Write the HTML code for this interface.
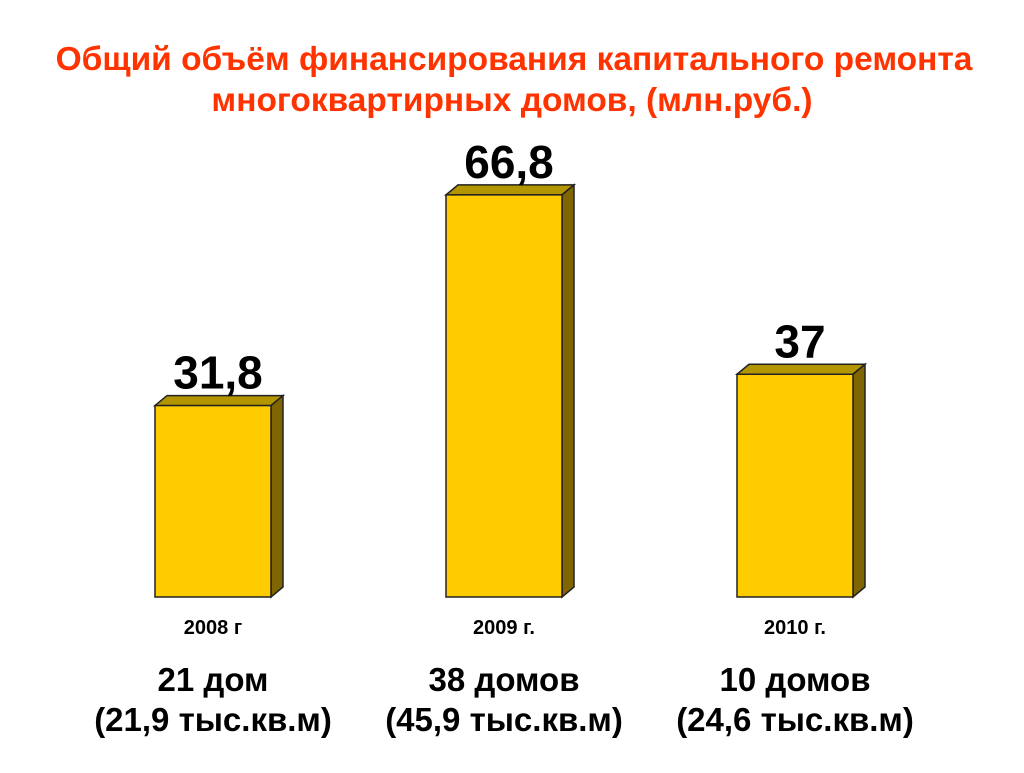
<!DOCTYPE html>
<html><head><meta charset="utf-8"><style>
body{margin:0;width:1024px;height:768px;background:#fff;overflow:hidden;font-family:"Liberation Sans",sans-serif}
</style></head><body>
<svg width="1024" height="768" style="font-family:'Liberation Sans',sans-serif">
<text x="514" y="70" text-anchor="middle" font-size="33.5" font-weight="bold" fill="#ff3300">Общий объём финансирования капитального ремонта</text>
<text x="512" y="111" text-anchor="middle" font-size="33.5" font-weight="bold" fill="#ff3300">многоквартирных домов, (млн.руб.)</text>
<g id="bars"></g>
</svg>
<script>
const categories = ["2008 г", "2009 г.", "2010 г."];
const values = [31.8, 66.8, 37];
const valueLabels = ["31,8", "66,8", "37"];
const houses = ["21 дом", "38 домов", "10 домов"];
const areas = ["(21,9 тыс.кв.м)", "(45,9 тыс.кв.м)", "(24,6 тыс.кв.м)"];
const NS = "http://www.w3.org/2000/svg";
const g = document.getElementById("bars");
const base = 597, scale = 6.02, bw = 116, dx = 12, dy = 10;
function xPos(i){ return 155 + i * 291; }
function yPos(v){ return base - v * scale; }
function mk(tag, attrs, parent){ const e = document.createElementNS(NS, tag); for (const k in attrs) e.setAttribute(k, attrs[k]); (parent||g).appendChild(e); return e; }
values.forEach((v, i) => {
  const x = xPos(i), y = yPos(v);
  const grp = mk("g", {});
  
  
  mk("polygon", {points:`${x},${y} ${x+dx},${y-dy} ${x+bw+dx},${y-dy} ${x+bw},${y}`, fill:"#b39500", stroke:"#222", "stroke-width":1.5}, grp);
  mk("polygon", {points:`${x+bw},${y} ${x+bw+dx},${y-dy} ${x+bw+dx},${base-dy} ${x+bw},${base}`, fill:"#806600", stroke:"#222", "stroke-width":1.5}, grp);
  mk("rect", {x:x, y:y, width:bw, height:base-y, fill:"#ffcc00", stroke:"#222", "stroke-width":1.5}, grp);
  const cx = x + bw/2;
  const vl = mk("text", {x:cx + 5, y:y - 17, "text-anchor":"middle", "font-size":46, "font-weight":"bold", fill:"#000"});
  vl.textContent = valueLabels[i];
  
  
  const cl = mk("text", {x:cx, y:634, "text-anchor":"middle", "font-size":20, "font-weight":"bold", fill:"#000"});
  cl.textContent = categories[i];
  
  
  const hl = mk("text", {x:cx, y:691, "text-anchor":"middle", "font-size":33, "font-weight":"bold", fill:"#000"});
  hl.textContent = houses[i];
  
  
  const al = mk("text", {x:cx, y:731, "text-anchor":"middle", "font-size":33, "font-weight":"bold", fill:"#000"});
  al.textContent = areas[i];
  
  
});
</script>
</body></html>
